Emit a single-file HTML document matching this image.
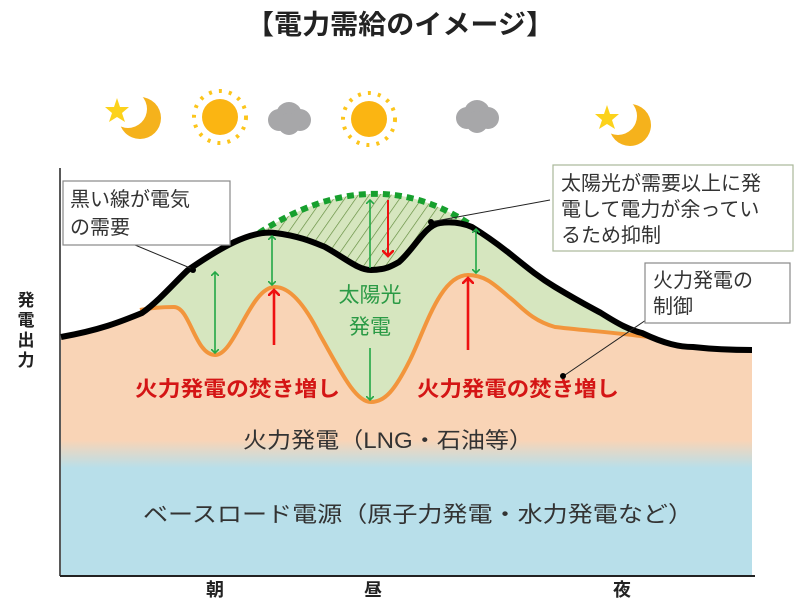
<!DOCTYPE html>
<html><head><meta charset="utf-8"><style>
html,body{margin:0;padding:0;background:#fff;}
svg{display:block;font-family:"Liberation Sans","Noto Sans CJK JP",sans-serif;}
</style></head><body>
<svg width="800" height="609" viewBox="0 0 800 609" xmlns="http://www.w3.org/2000/svg">
<defs>
<linearGradient id="bg" gradientUnits="userSpaceOnUse" x1="0" y1="440" x2="0" y2="468">
<stop offset="0" stop-color="#f9d4b6"/><stop offset="1" stop-color="#b8dfea"/>
</linearGradient>
<pattern id="hatch" width="9" height="9" patternUnits="userSpaceOnUse" patternTransform="rotate(35)">
<line x1="0" y1="0" x2="0" y2="9" stroke="#5f8a3a" stroke-width="1.3"/>
</pattern>
<marker id="ag" markerWidth="8" markerHeight="8" refX="4" refY="4" orient="auto-start-reverse" markerUnits="userSpaceOnUse"><path d="M0,0 L4,4 L0,8" fill="none" stroke="#22a845" stroke-width="1.6"/></marker>
<marker id="ar" markerWidth="12" markerHeight="12" refX="6" refY="6" orient="auto" markerUnits="userSpaceOnUse"><path d="M0,0 L6,6 L0,12" fill="none" stroke="#ee1111" stroke-width="2.6"/></marker>
</defs>
<text x="400" y="34" text-anchor="middle" font-size="27" font-weight="bold" fill="#222" textLength="308" lengthAdjust="spacingAndGlyphs">【電力需給のイメージ】</text>

<path d="M61,337 C100,330 120,322 142,313 C160,300 175,282 188,270 C220,248 250,230 275,233 C300,236 315,243 325,247 C345,258 358,270 371,270 C385,270 392,266 399,262 C415,248 425,225 440,223 C455,221 465,224 472,227 C490,238 500,246 509,253 C530,270 540,278 555,287 C580,302 590,307 601,313 C620,325 630,330 642,333 C665,344 680,347 693,347 C720,350 740,350 752,350 L752,575 L61,575 Z" fill="url(#bg)"/>
<path d="M140,310 C160,300 175,282 188,270 C220,248 250,230 275,233 C300,236 315,243 325,247 C345,258 358,270 371,270 C385,270 392,266 399,262 C415,248 425,225 440,223 C455,221 465,224 472,227 C490,238 500,246 509,253 C530,270 540,278 555,287 C580,302 590,307 601,313 C620,325 635,332 656,338 C630,334 580,330 555,327 C530,320 520,305 509,297 C495,285 485,275 468,275 C440,275 425,330 410,360 C395,390 385,402 371,402 C355,402 340,370 320,335 C305,305 290,287 275,287 C250,287 235,355 215,355 C195,355 190,307 174,307 C160,307 150,308 140,310 Z" fill="#d6e6bf"/>
<path d="M259,233 Q371,160 468,223 C455,221 445,222 440,223 C425,225 415,248 399,262 C392,266 385,270 371,270 C358,270 345,258 325,247 C315,243 300,236 275,233 Z" fill="#d6e6bf"/>
<path d="M259,233 Q371,160 468,223 C455,221 445,222 440,223 C425,225 415,248 399,262 C392,266 385,270 371,270 C358,270 345,258 325,247 C315,243 300,236 275,233 Z" fill="url(#hatch)"/>
<path d="M259,233 Q371,160 468,223" fill="none" stroke="#17a02e" stroke-width="6" stroke-dasharray="7,5"/>
<path d="M140,310 C150,308 160,307 174,307 C190,307 195,355 215,355 C235,355 250,287 275,287 C290,287 305,305 320,335 C340,370 355,402 371,402 C385,402 395,390 410,360 C425,330 440,275 468,275 C485,275 495,285 509,297 C520,305 530,320 555,327 C580,330 630,334 656,338" fill="none" stroke="#f2953c" stroke-width="4"/>
<path d="M61,337 C100,330 120,322 142,313 C160,300 175,282 188,270 C220,248 250,230 275,233 C300,236 315,243 325,247 C345,258 358,270 371,270 C385,270 392,266 399,262 C415,248 425,225 440,223 C455,221 465,224 472,227 C490,238 500,246 509,253 C530,270 540,278 555,287 C580,302 590,307 601,313 C620,325 630,330 642,333 C665,344 680,347 693,347 C720,350 740,350 752,350" fill="none" stroke="#000" stroke-width="6"/>
<line x1="60" y1="168" x2="60" y2="576" stroke="#222" stroke-width="1.5"/>
<line x1="60" y1="576" x2="755" y2="576" stroke="#222" stroke-width="2"/>
<g stroke="#22a845" stroke-width="1.6" fill="none">
<line x1="215" y1="272" x2="215" y2="353" marker-start="url(#ag)" marker-end="url(#ag)"/>
<line x1="272" y1="236" x2="272" y2="285" marker-start="url(#ag)" marker-end="url(#ag)"/>
<line x1="370" y1="200" x2="370" y2="268" marker-start="url(#ag)"/>
<line x1="370" y1="348" x2="370" y2="400" marker-end="url(#ag)"/>
<line x1="476" y1="229" x2="476" y2="273" marker-start="url(#ag)" marker-end="url(#ag)"/>
</g>
<g stroke="#ee1111" stroke-width="2.6" fill="none">
<line x1="274" y1="345" x2="274" y2="290" marker-end="url(#ar)"/>
<line x1="468" y1="350" x2="468" y2="278" marker-end="url(#ar)"/>
<line x1="388" y1="200" x2="388" y2="256" marker-end="url(#ar)" stroke-width="2"/>
</g>
<text x="370" y="302" text-anchor="middle" font-size="21" fill="#2a9a45">太陽光</text>
<text x="370" y="334" text-anchor="middle" font-size="21" fill="#2a9a45">発電</text>
<text x="135" y="396" font-size="21" font-weight="bold" fill="#d41515" textLength="205" lengthAdjust="spacingAndGlyphs">火力発電の焚き増し</text>
<text x="417" y="396" font-size="21" font-weight="bold" fill="#d41515" textLength="202" lengthAdjust="spacingAndGlyphs">火力発電の焚き増し</text>
<text x="243" y="448" font-size="22" fill="#333" textLength="290" lengthAdjust="spacingAndGlyphs">火力発電（LNG・石油等）</text>
<text x="143" y="522" font-size="22" fill="#333" textLength="550" lengthAdjust="spacingAndGlyphs">ベースロード電源（原子力発電・水力発電など）</text>
<line x1="135" y1="245" x2="195" y2="270" stroke="#222" stroke-width="1"/>
<circle cx="193" cy="270" r="3" fill="#000"/>
<rect x="63" y="181" width="167" height="64" fill="#fff" stroke="#888" stroke-width="1.2"/>
<text x="70" y="206" font-size="20" fill="#333">黒い線が電気</text>
<text x="70" y="234" font-size="20" fill="#333">の需要</text>
<line x1="550" y1="200" x2="430" y2="222" stroke="#222" stroke-width="1"/>
<circle cx="431" cy="222" r="3" fill="#000"/>
<rect x="553" y="165" width="240" height="86" fill="#fff" stroke="#a9b89a" stroke-width="1.2"/>
<text x="561" y="190" font-size="20" fill="#333">太陽光が需要以上に発</text>
<text x="561" y="216" font-size="20" fill="#333">電して電力が余ってい</text>
<text x="561" y="242" font-size="20" fill="#333">るため抑制</text>
<line x1="646" y1="320" x2="565" y2="375" stroke="#222" stroke-width="1"/>
<circle cx="563" cy="376" r="3" fill="#000"/>
<rect x="645" y="263" width="145" height="60" fill="#fff" stroke="#888" stroke-width="1.2"/>
<text x="653" y="287" font-size="20" fill="#333">火力発電の</text>
<text x="653" y="313" font-size="20" fill="#333">制御</text>
<g font-size="17" font-weight="bold" fill="#222" text-anchor="middle">
<text x="26" y="306">発</text><text x="26" y="326">電</text><text x="26" y="346">出</text><text x="26" y="366">力</text>
</g>
<g font-size="18" font-weight="bold" fill="#222" text-anchor="middle">
<text x="215" y="596">朝</text><text x="373" y="596">昼</text><text x="622" y="596">夜</text>
</g>
<g>
<circle cx="140" cy="118" r="21" fill="#f5b21c"/><circle cx="128" cy="109" r="19" fill="#fff"/>
<polygon points="117,98 120,107 129,107 122,113 125,122 117,117 109,122 112,113 105,107 114,107" fill="#fcd21b"/>
</g>
<g transform="translate(490,7)">
<circle cx="140" cy="118" r="21" fill="#f5b21c"/><circle cx="128" cy="109" r="19" fill="#fff"/>
<polygon points="117,98 120,107 129,107 122,113 125,122 117,117 109,122 112,113 105,107 114,107" fill="#fcd21b"/>
</g>
<g fill="#fbb512">
<circle cx="220" cy="117" r="18"/>
<circle cx="369" cy="119" r="18"/>
</g>
<g stroke="#fcc51b" stroke-width="4" stroke-dasharray="3,7.1">
<circle cx="220" cy="117" r="26" fill="none"/>
<circle cx="369" cy="119" r="26" fill="none"/>
</g>
<g fill="#a7a7a9">
<circle cx="289" cy="115" r="13"/><circle cx="279" cy="120" r="11"/><circle cx="300" cy="120" r="11"/><circle cx="289" cy="124" r="11"/>
<circle cx="477" cy="113" r="13"/><circle cx="467" cy="118" r="11"/><circle cx="488" cy="118" r="11"/><circle cx="477" cy="122" r="11"/>
</g>
</svg>
</body></html>
